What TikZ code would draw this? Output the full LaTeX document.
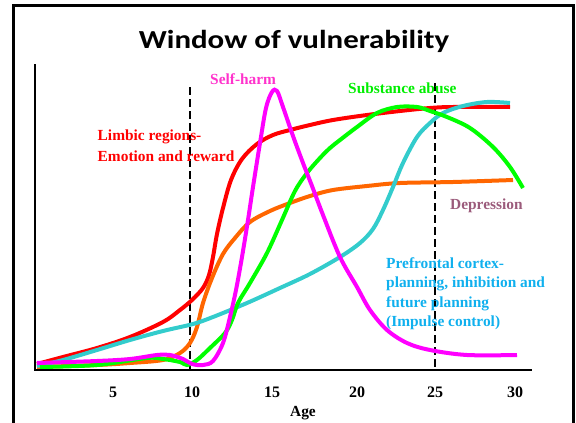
\documentclass[tikz,border=0pt]{standalone}
\usepackage{fontspec}
\setmainfont{Liberation Serif}
\newfontfamily\titlefont{Carlito}
\definecolor{limbic}{HTML}{FF0000}
\definecolor{depr}{HTML}{FF6600}
\definecolor{harm}{HTML}{FF00FF}
\definecolor{harmtxt}{HTML}{FF33CC}
\definecolor{subst}{HTML}{00FF00}
\definecolor{substtxt}{HTML}{00EE00}
\definecolor{pfc}{HTML}{33CCCC}
\definecolor{pfctxt}{HTML}{10B0EE}
\definecolor{deprtxt}{HTML}{9B5B7B}

\begin{document}
\begin{tikzpicture}[x=1pt,y=-1pt,
  curve/.style={line width=4pt,smooth,tension=0.55},
  lab/.style={font=\fontsize{15.4}{19.3}\selectfont\bfseries,anchor=base west,inner sep=0pt},
  ticklab/.style={font=\fontsize{16}{18}\selectfont\bfseries,anchor=base,inner sep=0pt},
  axisline/.style={line width=2pt},
  window/.style={line width=2pt,dash pattern=on 8pt off 4pt}]
\useasboundingbox (0,0) rectangle (576,423);
% frame
\draw[line width=3pt] (13.5,440) -- (13.5,5.5) -- (573.5,5.5) -- (573.5,440);
\node[font=\titlefont\fontsize{26}{28}\selectfont\bfseries,anchor=base,inner sep=0pt] (title) at (294,48) {\scalebox{1.19}[1]{Window of vulnerability}};
% axes
\coordinate (o) at (35,370);
\coordinate (ytop) at (35,64);
\coordinate (xend) at (532,370);
\draw[axisline] (ytop) -- (o) -- (xend);
\foreach \yr/\px in {5/113,10/192,15/272,20/357,25/435,30/515}
  \node[ticklab] (t\yr) at (\px,397) {\yr};
\node[lab,anchor=base] (age) at (303,416.5) {Age};
% window
\coordinate (w1) at (190,87);
\coordinate (w1b) at (190,370);
\coordinate (w2) at (435,83);
\coordinate (w2b) at (435,370);
\draw[window] (w1) -- (w1b);
\draw[window] (w2) -- (w2b);
% curves
\draw[curve,limbic] plot coordinates {(37,364) (63,357) (97,348) (130,337) (163,322) (180,310) (192,300) (203,288) (209,275) (213,257) (217,234) (223,208) (231,180) (242,159) (257,144) (273,135) (290,130) (310,125) (333,120) (367,115) (400,111) (430,108) (453,107) (510,107)};
\draw[curve,depr] plot coordinates {(37,367) (97,365) (130,363) (163,360) (180,353) (190,343) (197,327) (203,303) (212,278) (223,254) (235,238) (250,222) (270,211) (290,203) (310,196) (333,190) (367,186) (400,183) (453,182) (513,180)};
\draw[curve,pfc] plot coordinates {(37,366) (63,360) (97,350) (130,340) (163,331) (193,324) (213,317) (247,303) (280,288) (310,274) (340,257) (360,243) (373,229) (383,210) (393,187) (403,163) (417,137) (430,123) (443,113) (463,106) (487,102) (510,103)};
\draw[curve,subst] plot coordinates {(40,367) (97,365) (147,358) (163,359) (180,362) (187,365) (197,360) (210,348) (225,333) (232,320) (238,303) (250,283) (267,253) (282,220) (295,191) (307,173) (320,158) (330,148) (340,140) (357,127) (377,113) (397,107) (417,107) (430,111) (447,117) (470,128) (493,147) (510,167) (523,188)};
\draw[curve,harm] plot coordinates {(37,363) (97,361) (130,359) (157,355) (170,355) (183,359) (192,364) (203,365) (213,361) (223,343) (230,317) (236,290) (242,257) (248,220) (253,187) (260,143) (266,108) (272,92) (277,91) (283,107) (293,136) (303,163) (312,186) (323,215) (340,257) (357,287) (370,310) (387,330) (407,343) (430,350) (467,355) (517,355)};
% labels
\node[lab,text=harmtxt] (selfharm) at (210,84) {Self-harm};
\node[lab,text=substtxt] (substance) at (348,93) {Substance abuse};
\node[lab,text=limbic] (limbic) at (97.5,140.5) {Limbic regions-};
\node[lab,text=limbic] (emotion) at (97.5,161) {Emotion and reward};
\node[lab,text=deprtxt] (depression) at (450,209.5) {Depression};
\node[lab,text=pfctxt,align=left] (prefrontal) at (386,326.4) {Prefrontal cortex-\\planning, inhibition and\\future planning\\(Impulse control)};
\end{tikzpicture}
\end{document}
